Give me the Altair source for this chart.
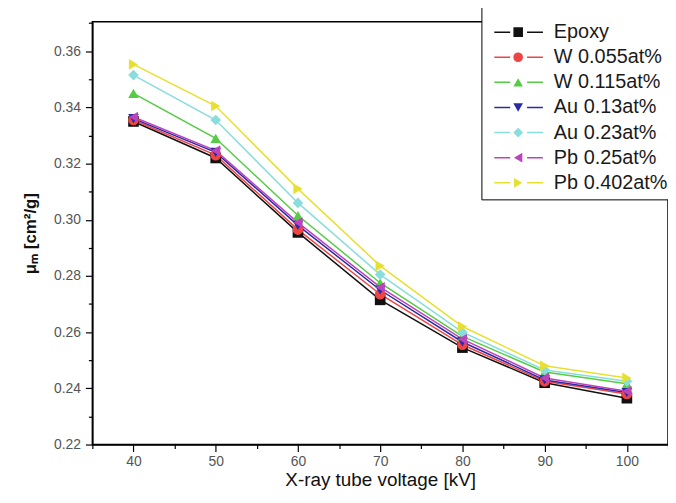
import altair as alt
import pandas as pd

voltages = [40, 50, 60, 70, 80, 90, 100]
series_names = ["Epoxy", "W 0.055at%", "W 0.115at%", "Au 0.13at%",
                "Au 0.23at%", "Pb 0.25at%", "Pb 0.402at%"]

epoxy   = [0.3350, 0.3220, 0.2955, 0.2715, 0.2545, 0.2420, 0.2365]
w_055   = [0.3355, 0.3230, 0.2965, 0.2735, 0.2555, 0.2425, 0.2380]
w_115   = [0.3450, 0.3290, 0.3015, 0.2775, 0.2585, 0.2458, 0.2416]
au_013  = [0.3360, 0.3240, 0.2980, 0.2750, 0.2565, 0.2430, 0.2385]
au_023  = [0.3515, 0.3355, 0.3060, 0.2805, 0.2600, 0.2465, 0.2425]
pb_025  = [0.3366, 0.3246, 0.2990, 0.2760, 0.2575, 0.2437, 0.2390]
pb_0402 = [0.3553, 0.3405, 0.3110, 0.2836, 0.2620, 0.2480, 0.2437]

all_values = [epoxy, w_055, w_115, au_013, au_023, pb_025, pb_0402]

colors = ["#111111", "#ee4444", "#55cc44", "#2a2aa8", "#88dddd", "#bb44bb", "#e8e030"]
shapes = ["square", "circle", "triangle-up", "triangle-down", "diamond",
          "triangle-left", "triangle-right"]

x_tick_values = [35, 40, 45, 50, 55, 60, 65, 70, 75, 80, 85, 90, 95, 100, 105]
y_tick_values = [0.22, 0.23, 0.24, 0.25, 0.26, 0.27, 0.28, 0.29, 0.30,
                 0.31, 0.32, 0.33, 0.34, 0.35, 0.36, 0.37]

# line-legend labels carry a trailing space so Vega-Lite keeps the two legends apart
line_names = [n + " " for n in series_names]

rows = []
for name, lname, vals in zip(series_names, line_names, all_values):
    for v, m in zip(voltages, vals):
        rows.append({"series": name, "series_l": lname, "kV": v, "mu": m})
df = pd.DataFrame(rows)

FONT = "Liberation Sans"

x_enc = alt.X(
    "kV:Q",
    scale=alt.Scale(domain=[35, 105], nice=False, zero=False),
    axis=alt.Axis(
        values=x_tick_values,
        labelExpr="datum.value % 10 == 0 ? datum.label : ''",
        tickSize={"condition": {"test": "datum.value % 10 != 0", "value": 4}, "value": 7},
        title="X-ray tube voltage [kV]",
        grid=False,
        labelFontSize=14, labelColor="#555555", labelFont=FONT, labelPadding=3,
        titleFontSize=19, titleFont=FONT, titleColor="#111111", titleFontWeight="normal",
        titleBaseline="alphabetic", titleY=41,
    ),
)
y_enc = alt.Y(
    "mu:Q",
    scale=alt.Scale(domain=[0.22, 0.3705], nice=False, zero=False),
    axis=alt.Axis(
        values=y_tick_values,
        labelExpr="round(datum.value*100) % 2 == 0 ? format(datum.value, '.2f') : ''",
        tickSize={"condition": {"test": "round(datum.value*100) % 2 != 0", "value": 4}, "value": 7},
        title="μₘ [cm²/g]",
        grid=False,
        labelFontSize=14, labelColor="#555555", labelFont=FONT, labelPadding=5,
        titleFontSize=17, titleFont=FONT, titleColor="#111111", titleFontWeight="bold",
        titlePadding=14,
    ),
)

line_legend = alt.Legend(
    title=" ", titleFontSize=4, titlePadding=5,
    orient="none", legendX=392, legendY=-15,
    symbolType="stroke", symbolSize=2401, symbolStrokeWidth=1.5, symbolDash=[16, 17],
    symbolOffset=6,
    labelFontSize=20, labelFont=FONT, labelColor="#1a1a1a", labelOffset=10,
    padding=6, strokeColor="black", fillColor="white",
    clipHeight=21, rowPadding=4.3, zindex=1,
)
point_legend = alt.Legend(
    title=None, orient="none", legendX=424, legendY=0,
    symbolSize=95, symbolStrokeWidth=0, labelExpr="''",
    clipHeight=21, rowPadding=4.3, padding=0, zindex=2,
)

lines = alt.Chart(df).mark_line(strokeWidth=1.5).encode(
    x=x_enc, y=y_enc,
    stroke=alt.Stroke("series_l:N", sort=line_names,
                      scale=alt.Scale(domain=line_names, range=colors),
                      legend=line_legend),
)

points = alt.Chart(df).mark_point(filled=True, size=115, opacity=1).encode(
    x=x_enc, y=y_enc,
    color=alt.Color("series:N", sort=series_names,
                    scale=alt.Scale(domain=series_names, range=colors),
                    legend=point_legend),
    shape=alt.Shape("series:N", sort=series_names,
                    scale=alt.Scale(domain=series_names, range=shapes),
                    legend=point_legend),
)

chart = alt.layer(lines, points).properties(
    width=580, height=426,
    autosize=alt.AutoSizeParams(type="none"),
    padding={"left": 85, "top": 12, "right": 0, "bottom": 44},
    background="white",
).configure_view(
    stroke="black", strokeWidth=1.5
).configure_axis(
    domainColor="black", domainWidth=1.5, tickColor="black", tickWidth=1.2
)

chart.save("out.html", embed_options={"renderer": "svg", "actions": False})
